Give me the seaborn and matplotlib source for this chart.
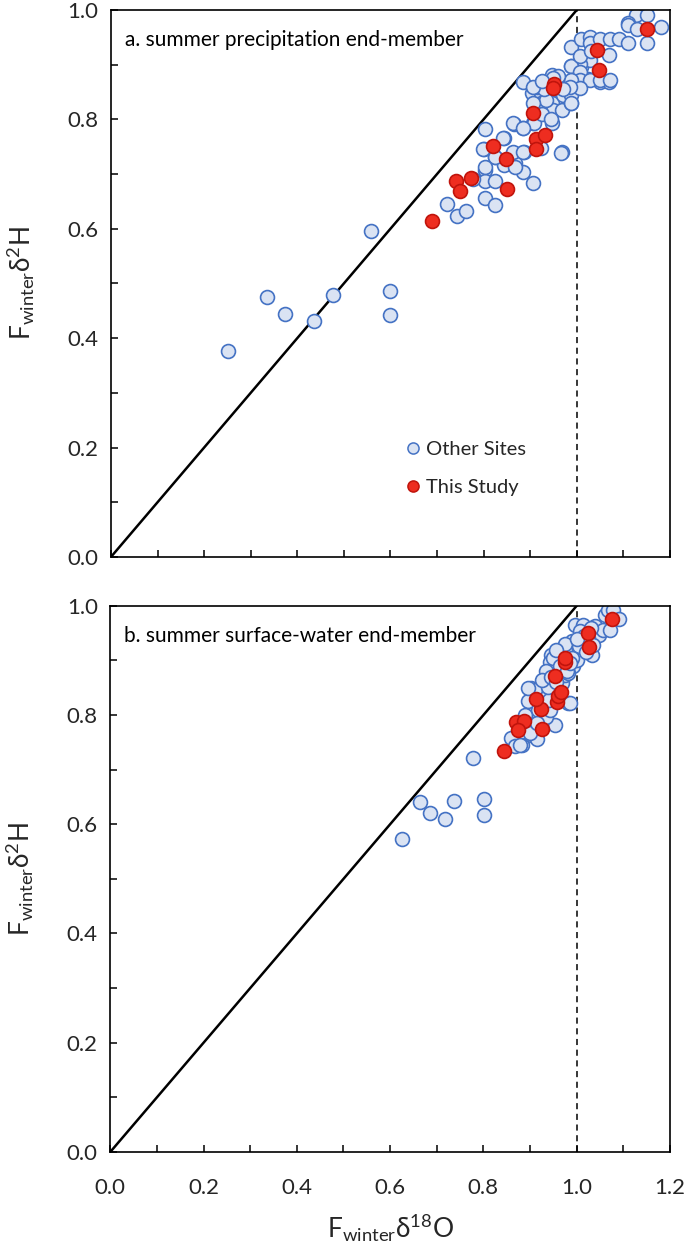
import numpy as np
import pandas as pd
import matplotlib
matplotlib.use("Agg")
import matplotlib.pyplot as plt
import seaborn as sns
from matplotlib.ticker import MultipleLocator, FormatStrFormatter
from matplotlib.lines import Line2D

# ---------------- data ----------------
# Panel a: summer precipitation end-member
a_other_x = [0.252, 0.334, 0.374, 0.436, 0.477, 0.559, 0.600, 0.600,
             0.803, 0.801, 0.844, 0.825, 0.865, 0.885, 0.905, 0.886, 0.865, 0.843,
             0.867, 0.885, 0.905, 0.803, 0.803, 0.825, 0.778, 0.804, 0.825, 0.722,
             0.742, 0.763,
             0.885, 0.925, 0.947, 0.972, 0.988, 1.010, 1.024, 1.049, 1.069, 0.903,
             0.924, 0.946, 0.967, 0.985, 0.924, 0.946, 0.928, 0.949, 0.969, 0.988,
             0.946, 0.908, 0.863, 0.885, 0.842, 0.799, 0.824, 0.863, 0.885, 0.924,
             0.969, 0.803, 0.867, 0.967,
             1.128, 1.151, 1.110, 1.110, 1.130, 1.181, 1.151, 0.988, 1.010, 1.028,
             1.028, 1.049, 1.071, 1.091, 1.110, 1.069, 1.028, 1.028, 1.006, 0.988,
             1.006, 1.006, 1.029, 1.049, 1.071, 0.988, 0.971, 0.988, 0.988, 1.006,
             0.955, 0.935, 0.915, 0.960, 0.930, 0.905, 0.925, 0.945, 0.985, 0.905,
             0.950, 0.970, 1.008, 1.030, 0.925]
a_other_y = [0.377, 0.476, 0.445, 0.432, 0.479, 0.595, 0.486, 0.442,
             0.782, 0.745, 0.765, 0.732, 0.791, 0.784, 0.793, 0.740, 0.738, 0.717,
             0.720, 0.704, 0.683, 0.707, 0.688, 0.688, 0.691, 0.657, 0.644, 0.646,
             0.624, 0.632,
             0.869, 0.869, 0.881, 0.866, 0.898, 0.895, 0.873, 0.869, 0.869, 0.848,
             0.848, 0.848, 0.848, 0.845, 0.830, 0.830, 0.818, 0.818, 0.818, 0.830,
             0.793, 0.793, 0.793, 0.784, 0.766, 0.745, 0.732, 0.740, 0.740, 0.747,
             0.741, 0.712, 0.713, 0.739,
             0.991, 0.991, 0.977, 0.973, 0.965, 0.968, 0.939, 0.933, 0.946, 0.951,
             0.939, 0.946, 0.946, 0.946, 0.939, 0.918, 0.917, 0.908, 0.902, 0.897,
             0.887, 0.872, 0.872, 0.872, 0.872, 0.872, 0.845, 0.845, 0.830, 0.857,
             0.860, 0.835, 0.860, 0.880, 0.855, 0.830, 0.810, 0.800, 0.860, 0.860,
             0.875, 0.855, 0.915, 0.925, 0.870]
a_study_x = [0.690, 0.740, 0.749, 0.773, 0.821, 0.847, 0.850, 0.905, 0.913, 0.912,
             0.931, 0.951, 0.949, 1.044, 1.048, 1.151]
a_study_y = [0.614, 0.688, 0.669, 0.693, 0.752, 0.727, 0.673, 0.812, 0.764, 0.746,
             0.772, 0.865, 0.857, 0.926, 0.890, 0.965]

# Panel b: summer surface-water end-member
b_other_x = [0.778, 0.665, 0.686, 0.717, 0.738, 0.801, 0.801, 0.625,
             0.859, 0.867, 0.882, 0.903, 0.914, 0.953, 0.935, 0.903, 0.896, 0.903,
             0.932, 0.925, 0.943, 0.940, 0.982, 0.968, 0.975, 0.957, 0.950,
             0.910, 0.896, 0.946, 0.943, 0.960, 0.989, 1.004, 1.032, 0.993, 0.982,
             0.996, 1.014, 1.007, 1.039, 1.047, 1.061, 1.068, 1.078, 1.057, 1.090,
             1.072, 0.989, 1.011, 1.025, 0.968, 1.004, 1.036,
             0.878, 0.900, 0.939, 0.918, 0.986, 0.960, 0.950, 0.975, 1.000,
             0.955, 0.965, 0.980, 0.990, 1.015, 0.935, 0.925, 0.945, 0.985, 1.020,
             0.890, 0.915, 0.955, 1.000, 1.030]
b_other_y = [0.722, 0.640, 0.620, 0.610, 0.643, 0.647, 0.617, 0.573,
             0.758, 0.744, 0.745, 0.764, 0.756, 0.782, 0.797, 0.803, 0.825, 0.849,
             0.858, 0.840, 0.810, 0.828, 0.822, 0.858, 0.874, 0.886, 0.895,
             0.846, 0.850, 0.910, 0.898, 0.913, 0.913, 0.919, 0.910, 0.889, 0.877,
             0.965, 0.965, 0.953, 0.963, 0.947, 0.984, 0.993, 0.993, 0.956, 0.976,
             0.956, 0.935, 0.938, 0.941, 0.892, 0.926, 0.929,
             0.745, 0.767, 0.852, 0.810, 0.822, 0.900, 0.905, 0.930, 0.900,
             0.920, 0.890, 0.880, 0.905, 0.945, 0.880, 0.865, 0.870, 0.895, 0.915,
             0.800, 0.785, 0.860, 0.940, 0.960]
b_study_x = [0.844, 0.871, 0.887, 0.875, 0.926, 0.923, 0.912, 0.958, 0.960, 0.966,
             0.953, 0.975, 0.975, 1.024, 1.026, 1.075]
b_study_y = [0.734, 0.787, 0.789, 0.773, 0.775, 0.811, 0.830, 0.823, 0.834, 0.843,
             0.872, 0.898, 0.904, 0.950, 0.924, 0.976]

groups = ["Other Sites", "This Study"]
panel_titles = ["a. summer precipitation end-member",
                "b. summer surface-water end-member"]

def make_df(ox, oy, sx, sy):
    return pd.DataFrame({
        "x": ox + sx,
        "y": oy + sy,
        "group": [groups[0]] * len(ox) + [groups[1]] * len(sx),
    })

df_a = make_df(a_other_x, a_other_y, a_study_x, a_study_y)
df_b = make_df(b_other_x, b_other_y, b_study_x, b_study_y)

# ---------------- style ----------------
sns.set_theme(style="white")
plt.rcParams['font.family'] = ['Lato', 'DejaVu Sans']
plt.rcParams['mathtext.default'] = 'regular'

fill = {groups[0]: "#dae3f3", groups[1]: "#ee2d20"}
edge = {groups[0]: "#4472c4", groups[1]: "#c0140c"}

fig = plt.figure(figsize=(6.85, 12.44), dpi=100)
ax_a = fig.add_axes([0.162, 0.5523, 0.816, 0.4397])
ax_b = fig.add_axes([0.161, 0.0740, 0.817, 0.4390])

ylabel = r'F$_{winter}$δ$^{2}$H'
xlabel = r'F$_{winter}$δ$^{18}$O'

for ax, df, title, show_x in [(ax_a, df_a, panel_titles[0], False),
                              (ax_b, df_b, panel_titles[1], True)]:
    ax.plot([0, 1], [0, 1], color="black", lw=1.8, zorder=1)
    ax.plot([1, 1], [0, 1], color="black", lw=1.1, ls=(0, (4, 3)), zorder=1)
    for g in groups:
        sub = df[df["group"] == g]
        sns.scatterplot(data=sub, x="x", y="y", ax=ax, color=fill[g],
                        edgecolor=edge[g], linewidth=1.2, s=100,
                        zorder=3 if g == groups[1] else 2,
                        label=g, legend=False)
    ax.set_xlim(0, 1.2)
    ax.set_ylim(0, 1.0)
    ax.xaxis.set_major_locator(MultipleLocator(0.2))
    ax.xaxis.set_minor_locator(MultipleLocator(0.1))
    ax.yaxis.set_major_locator(MultipleLocator(0.2))
    ax.yaxis.set_minor_locator(MultipleLocator(0.1))
    ax.tick_params(which="both", direction="in", length=5, width=1.1, color="black",
                   labelsize=16, bottom=True, left=True, top=False, right=False)
    ax.yaxis.set_major_formatter(FormatStrFormatter('%.1f'))
    ax.xaxis.set_major_formatter(FormatStrFormatter('%.1f'))
    ax.tick_params(axis="x", pad=19)
    ax.tick_params(axis="y", pad=9)
    for sp in ax.spines.values():
        sp.set_color("black")
        sp.set_linewidth(1.2)
    ax.set_ylabel(ylabel, fontsize=19, labelpad=22)
    ax.text(0.025, 0.945, title, transform=ax.transAxes, fontsize=15,
            ha="left", va="center", color="black")
    if show_x:
        ax.set_xlabel(xlabel, fontsize=19, labelpad=10)
    else:
        ax.set_xlabel("")
        ax.tick_params(axis="x", labelbottom=False)

# legend in panel a
handles = [Line2D([], [], ls="none", marker="o", markersize=8,
                  markerfacecolor=fill[g], markeredgecolor=edge[g], markeredgewidth=1.1)
           for g in groups]
ax_a.legend(handles, groups, loc="center left", bbox_to_anchor=(0.49, 0.162),
            frameon=False, fontsize=14.5, handletextpad=0.15, labelspacing=1.05,
            handlelength=1.0)

fig.savefig("out.png", dpi=100)
